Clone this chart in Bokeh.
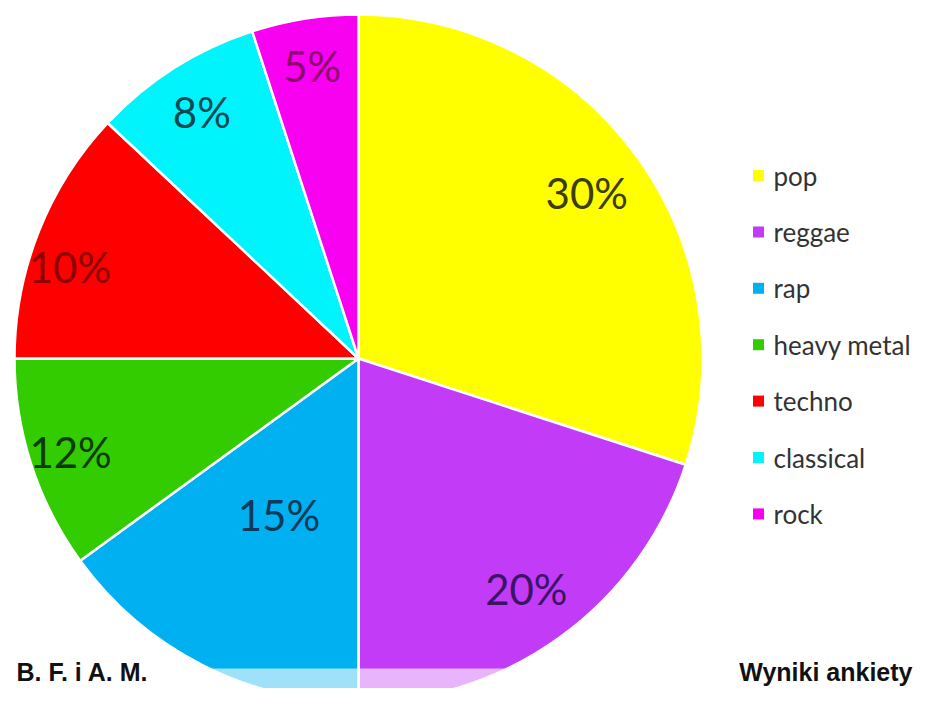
import numpy as np
from bokeh.plotting import figure
from bokeh.models import ColumnDataSource
from bokeh.core.properties import value
from bokeh.embed import file_html
from bokeh.resources import INLINE

# ---- data ----
genres = ["pop", "reggae", "rap", "heavy metal", "techno", "classical", "rock"]
shares = [30, 20, 15, 10, 12, 8, 5]          # slice sizes as drawn
labels = ["30%", "20%", "15%", "12%", "10%", "8%", "5%"]  # texts printed on slices
colors = ["#ffff00", "#c23cf7", "#00b0f0", "#33cc00", "#ff0000", "#00f4fc", "#f800f0"]
label_colors = ["#3d3d0a", "#3c1466", "#0b3a5c", "#0c3a05", "#8c0000", "#0b4a55", "#8a0a6e"]
left_caption = "B. F. i A. M."
right_caption = "Wyniki ankiety"

# ---- layout ----
W, H = 914, 688
R = 344
cx, cy = 358, H - 358
label_rfrac = [0.82, 0.83, 0.51, 0.88, 0.88, 0.85, 0.86]
label_nudge_deg = [0, 0, 0, 0, 4, 0, 0]

vals = np.array(shares, dtype=float)
frac = vals / vals.sum()
cum = np.concatenate([[0.0], np.cumsum(frac)])
start = np.pi / 2 - 2 * np.pi * cum[:-1]
end = np.pi / 2 - 2 * np.pi * cum[1:]
mid = (start + end) / 2 + np.radians(label_nudge_deg)
lx = cx + np.array(label_rfrac) * R * np.cos(mid)
ly = cy + np.array(label_rfrac) * R * np.sin(mid)

p = figure(width=W, height=H, x_range=(0, W), y_range=(0, H),
           x_axis_type=None, y_axis_type=None, toolbar_location=None,
           output_backend="svg", min_border=0, outline_line_color=None)
p.grid.visible = False
p.background_fill_color = "white"
p.border_fill_color = "white"

src = ColumnDataSource(dict(start=start, end=end, color=colors, genre=genres))
p.wedge(x=cx, y=cy, radius=R, start_angle="start", end_angle="end",
        direction="clock", fill_color="color", line_color="white",
        line_width=2.5, source=src)

lsrc = ColumnDataSource(dict(x=lx, y=ly, t=labels, c=label_colors))
p.text(x="x", y="y", text="t", text_color="c", source=lsrc,
       text_font=value("Lato"), text_font_size="42px",
       text_align="center", text_baseline="middle")

# legend
leg_y0 = 175
leg_dy = 56.4
idx = np.arange(len(genres))
legy = H - (leg_y0 + idx * leg_dy)
gsrc = ColumnDataSource(dict(y=legy, color=colors, genre=genres))
p.scatter(x=758, y="y", size=11, marker="square", fill_color="color",
          line_color=None, source=gsrc)
p.text(x=773, y="y", text="genre", source=gsrc, text_color="#333333",
       text_font=value("Lato"), text_font_size="26px",
       text_align="left", text_baseline="middle")

# bottom translucent band
p.quad(left=0, right=W, bottom=0, top=H - 668, fill_color="white",
       fill_alpha=0.62, line_color=None)

p.text(x=[16], y=[3], text=[left_caption], text_color="#111111",
       text_font=value("Liberation Sans"), text_font_size="25px",
       text_font_style="bold", text_align="left", text_baseline="bottom")
p.text(x=[W - 2], y=[3], text=[right_caption], text_color="#111111",
       text_font=value("Liberation Sans"), text_font_size="25px",
       text_font_style="bold", text_align="right", text_baseline="bottom")

open("out.html", "w").write(file_html(p, INLINE))
